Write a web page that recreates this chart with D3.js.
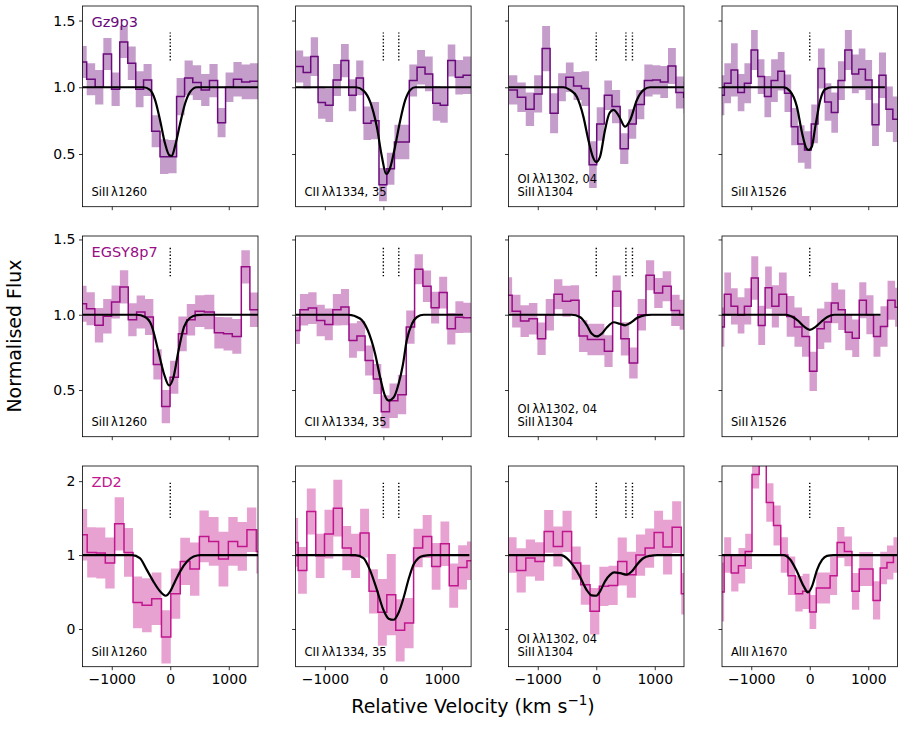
<!DOCTYPE html>
<html>
<head>
<meta charset="utf-8">
<script src="https://cdn.jsdelivr.net/npm/d3@7"></script>
<style>
  body { margin: 0; background: #fff; }
  svg { font-family: "DejaVu Sans", sans-serif; }
</style>
</head>
<body>
<div id="chart"></div>
<script>
// ---- data ----
var galaxies = ["Gz9p3", "EGSY8p7", "ZD2"];

// Gz9p3 SiII 1260
var gz_si1260_v = [-1502, -1355, -1212, -1075, -932, -795, -657, -523, -390, -246, -104, 40, 177, 313, 457, 600, 740, 880, 1011, 1149, 1292, 1430];
var gz_si1260_f = [1.19, 1.06, 1.0, 1.25, 0.985, 1.34, 1.18, 0.985, 1.055, 0.67, 0.48, 0.48, 0.93, 1.07, 1.035, 0.98, 1.05, 0.735, 1.0, 1.06, 1.04, 1.045];
var gz_si1260_e = [0.12, 0.12, 0.13, 0.12, 0.125, 0.12, 0.125, 0.135, 0.12, 0.12, 0.13, 0.125, 0.14, 0.13, 0.13, 0.12, 0.125, 0.11, 0.11, 0.13, 0.13, 0.135];
var gz_si1260_model = [[-1500, 1], [-460, 1], [-345, 0.98], [-260, 0.905], [-175, 0.755], [-90, 0.58], [-15, 0.49], [25, 0.485], [80, 0.555], [170, 0.73], [255, 0.88], [340, 0.965], [455, 1], [1500, 1]];

// Gz9p3 CII 1334
var gz_c1334_v = [-1434, -1306, -1177, -1055, -926, -792, -657, -526, -403, -278, -143, -6, 125, 254, 380, 508, 645, 780, 908, 1036, 1165, 1296, 1430];
var gz_c1334_f = [1.155, 1.11, 1.23, 0.885, 0.865, 1.055, 1.2, 0.94, 1.07, 0.73, 0.75, 0.27, 0.39, 0.59, 0.59, 1.05, 1.15, 1.1, 0.88, 0.865, 1.2, 1.075, 1.09];
var gz_c1334_e = [0.12, 0.12, 0.145, 0.12, 0.125, 0.12, 0.125, 0.12, 0.13, 0.125, 0.14, 0.125, 0.12, 0.13, 0.13, 0.12, 0.13, 0.13, 0.13, 0.13, 0.12, 0.13, 0.14];
var gz_c1334_model = [[-1500, 1], [-465, 1], [-340, 0.975], [-225, 0.89], [-110, 0.7], [-25, 0.48], [48, 0.35], [115, 0.395], [200, 0.555], [290, 0.755], [375, 0.905], [460, 0.98], [545, 1], [1500, 1]];

// Gz9p3 OI 1302 / SiII 1304
var gz_o1302_v = [-1420, -1278, -1132, -992, -858, -720, -584, -455, -320, -186, -58, 74, 202, 337, 480, 617, 750, 894, 1031, 1160, 1294, 1428, 1560];
var gz_o1302_f = [0.98, 0.925, 0.835, 0.95, 1.29, 0.805, 1.0, 1.075, 1.01, 0.99, 0.42, 0.725, 0.94, 0.855, 0.54, 0.725, 0.87, 1.05, 1.055, 1.04, 1.16, 0.96, 0.925];
var gz_o1302_e = [0.11, 0.11, 0.125, 0.14, 0.17, 0.15, 0.105, 0.11, 0.105, 0.13, 0.175, 0.125, 0.11, 0.125, 0.115, 0.11, 0.11, 0.12, 0.11, 0.12, 0.135, 0.12, 0.12];
var gz_o1302_model = [[-1500, 1], [-565, 1], [-450, 0.98], [-335, 0.93], [-220, 0.78], [-135, 0.605], [-60, 0.48], [0, 0.44], [65, 0.48], [150, 0.68], [225, 0.805], [295, 0.83], [380, 0.79], [494, 0.705], [580, 0.755], [695, 0.905], [810, 0.98], [920, 1], [1500, 1]];

// Gz9p3 SiII 1526
var gz_si1526_v = [-1517, -1403, -1288, -1174, -1060, -946, -832, -717, -603, -489, -374, -260, -146, -32, 83, 197, 312, 426, 540, 660, 780, 894, 1008, 1123, 1243, 1363, 1478];
var gz_si1526_f = [0.94, 1.03, 1.13, 0.96, 1.03, 1.28, 1.08, 0.93, 1.05, 1.12, 0.955, 0.705, 0.575, 0.53, 0.725, 1.14, 0.89, 0.81, 1.05, 1.28, 1.1, 1.135, 1.055, 0.72, 1.09, 0.835, 0.76];
var gz_si1526_e = [0.15, 0.15, 0.2, 0.14, 0.15, 0.15, 0.13, 0.155, 0.16, 0.145, 0.14, 0.14, 0.14, 0.14, 0.145, 0.15, 0.14, 0.15, 0.145, 0.15, 0.145, 0.155, 0.15, 0.16, 0.17, 0.17, 0.17];
var gz_si1526_model = [[-1500, 1], [-450, 1], [-335, 0.97], [-220, 0.855], [-135, 0.665], [-60, 0.545], [-20, 0.53], [35, 0.555], [95, 0.705], [180, 0.905], [265, 0.985], [380, 1], [1285, 1]];

// EGSY8p7 SiII 1260
var eg_si1260_v = [-1502, -1360, -1218, -1075, -932, -790, -646, -504, -360, -218, -75, 68, 210, 354, 497, 668, 839, 982, 1139, 1290, 1432];
var eg_si1260_f = [1.073, 1.04, 0.93, 0.99, 1.085, 1.185, 0.967, 1.018, 0.985, 0.67, 0.39, 0.585, 0.873, 0.967, 1.024, 1.018, 0.88, 0.873, 0.856, 1.318, 1.033];
var eg_si1260_e = [0.12, 0.11, 0.115, 0.115, 0.11, 0.11, 0.11, 0.11, 0.12, 0.1, 0.11, 0.11, 0.115, 0.105, 0.105, 0.115, 0.105, 0.11, 0.115, 0.11, 0.115];
var eg_si1260_model = [[-1500, 1], [-575, 1], [-430, 0.985], [-320, 0.93], [-205, 0.76], [-105, 0.605], [-20, 0.53], [55, 0.585], [140, 0.76], [235, 0.92], [340, 0.98], [455, 0.998], [570, 1], [1500, 1]];

// EGSY8p7 CII 1334
var eg_c1334_v = [-1497, -1355, -1212, -1070, -932, -795, -655, -520, -384, -240, -104, 34, 176, 320, 462, 606, 746, 886, 1022, 1160, 1302, 1437];
var eg_c1334_f = [0.896, 1.033, 1.044, 0.962, 0.936, 1.033, 1.051, 0.829, 0.858, 0.696, 0.573, 0.356, 0.429, 0.469, 0.918, 1.302, 1.189, 1.047, 1.147, 0.907, 0.984, 0.98];
var eg_c1334_e = [0.09, 0.105, 0.105, 0.105, 0.105, 0.105, 0.12, 0.115, 0.1, 0.1, 0.1, 0.11, 0.115, 0.13, 0.11, 0.1, 0.105, 0.105, 0.105, 0.105, 0.105, 0.1];
var eg_c1334_model = [[-1500, 1], [-600, 1], [-400, 0.975], [-270, 0.9], [-140, 0.74], [-55, 0.585], [30, 0.46], [90, 0.43], [175, 0.45], [260, 0.54], [335, 0.67], [400, 0.83], [490, 0.94], [575, 0.985], [690, 1], [1360, 1]];

// EGSY8p7 OI 1302 / SiII 1304
var eg_o1302_v = [-1510, -1366, -1224, -1078, -934, -794, -652, -506, -364, -224, -78, 68, 210, 350, 490, 636, 780, 920, 1062, 1208, 1354, 1497];
var eg_o1302_f = [1.129, 1.024, 0.958, 0.973, 0.84, 1.0, 1.136, 1.089, 1.096, 0.858, 0.836, 0.836, 0.758, 1.156, 0.84, 0.68, 1.0, 1.262, 1.144, 1.189, 1.029, 1.0];
var eg_o1302_e = [0.12, 0.108, 0.105, 0.105, 0.108, 0.105, 0.1, 0.103, 0.1, 0.105, 0.105, 0.105, 0.105, 0.105, 0.11, 0.103, 0.105, 0.1, 0.1, 0.1, 0.103, 0.1];
var eg_o1302_model = [[-1500, 1], [-420, 1], [-280, 0.985], [-160, 0.93], [-80, 0.875], [10, 0.856], [95, 0.875], [180, 0.915], [300, 0.95], [400, 0.94], [495, 0.93], [580, 0.945], [695, 0.978], [840, 0.998], [950, 1], [1500, 1]];

// EGSY8p7 SiII 1526
var eg_si1526_v = [-1517, -1403, -1289, -1174, -1060, -940, -820, -706, -591, -463, -326, -197, -69, 60, 186, 311, 426, 546, 666, 786, 906, 1029, 1151, 1266, 1394, 1523];
var eg_si1526_f = [0.918, 1.136, 1.056, 0.996, 1.056, 1.244, 0.929, 1.18, 1.056, 1.136, 0.989, 0.918, 0.856, 0.624, 0.907, 0.951, 1.078, 1.033, 0.884, 0.844, 1.096, 1.0, 0.856, 0.922, 1.096, 1.05];
var eg_si1526_e = [0.13, 0.145, 0.12, 0.12, 0.12, 0.145, 0.13, 0.14, 0.14, 0.145, 0.135, 0.13, 0.135, 0.13, 0.135, 0.135, 0.135, 0.135, 0.12, 0.125, 0.12, 0.13, 0.135, 0.135, 0.13, 0.13];
var eg_si1526_model = [[-1500, 1], [-400, 1], [-300, 0.986], [-200, 0.96], [-100, 0.922], [0, 0.9], [100, 0.92], [200, 0.955], [300, 0.985], [420, 1], [1210, 1]];

// ZD2 SiII 1260
var zd_si1260_v = [-1500, -1340, -1189, -1032, -869, -712, -560, -403, -232, -69, 88, 254, 420, 577, 740, 912, 1074, 1231, 1391, 1551];
var zd_si1260_f = [1.275, 1.036, 1.027, 0.892, 1.423, 1.036, 0.36, 0.32, 0.41, -0.108, 0.477, 0.914, 0.811, 1.252, 1.185, 0.946, 1.185, 1.117, 1.342, 1.05];
var zd_si1260_e = [0.35, 0.34, 0.345, 0.345, 0.36, 0.33, 0.35, 0.365, 0.355, 0.36, 0.34, 0.32, 0.36, 0.35, 0.33, 0.37, 0.33, 0.33, 0.3, 0.3];
var zd_si1260_model = [[-1500, 1], [-650, 1], [-520, 0.96], [-400, 0.8], [-290, 0.645], [-175, 0.51], [-80, 0.45], [0, 0.51], [80, 0.64], [170, 0.78], [290, 0.915], [400, 0.98], [520, 1], [1500, 1]];

// ZD2 CII 1334
var zd_c1334_v = [-1530, -1384, -1232, -1080, -932, -778, -626, -475, -320, -169, -18, 136, 288, 440, 594, 751, 902, 1051, 1202, 1354, 1505];
var zd_c1334_f = [1.171, 0.793, 1.59, 0.99, 1.284, 1.635, 1.095, 0.99, 1.297, 0.509, 0.225, 0.464, -0.018, 0.081, 1.095, 1.252, 0.847, 1.153, 0.586, 0.833, 0.923];
var zd_c1334_e = [0.33, 0.315, 0.31, 0.3, 0.33, 0.385, 0.3, 0.3, 0.33, 0.3, 0.45, 0.55, 0.42, 0.34, 0.26, 0.29, 0.315, 0.3, 0.3, 0.3, 0.26];
var zd_c1334_model = [[-1500, 1], [-480, 1], [-340, 0.96], [-230, 0.8], [-110, 0.53], [0, 0.26], [90, 0.14], [175, 0.125], [260, 0.22], [345, 0.42], [430, 0.67], [515, 0.87], [600, 0.96], [690, 0.99], [800, 1], [1470, 1]];

// ZD2 OI 1302 / SiII 1304
var zd_o1302_v = [-1440, -1283, -1126, -969, -812, -655, -498, -344, -186, -26, 131, 288, 445, 600, 757, 914, 1065, 1219, 1376, 1530];
var zd_o1302_f = [1.0, 0.793, 0.96, 0.914, 1.32, 1.117, 1.32, 0.892, 0.599, 0.239, 0.577, 0.59, 0.914, 0.734, 1.0, 1.095, 1.306, 1.108, 1.378, 0.477];
var zd_o1302_e = [0.24, 0.3, 0.25, 0.26, 0.29, 0.27, 0.28, 0.225, 0.27, 0.315, 0.265, 0.265, 0.325, 0.31, 0.28, 0.265, 0.295, 0.37, 0.35, 0.28];
var zd_o1302_model = [[-1500, 1], [-600, 1], [-505, 0.96], [-390, 0.855], [-280, 0.71], [-165, 0.53], [-80, 0.455], [0, 0.45], [65, 0.51], [150, 0.645], [240, 0.735], [305, 0.765], [410, 0.755], [520, 0.735], [610, 0.78], [695, 0.87], [810, 0.96], [920, 0.99], [1040, 1], [1500, 1]];

// ZD2 AlII 1670
var zd_al1670_v = [-1520, -1406, -1280, -1158, -1048, -926, -803, -683, -557, -434, -312, -183, -60, 54, 168, 288, 408, 528, 657, 786, 906, 1020, 1143, 1266, 1374, 1486];
var zd_al1670_f = [0.5, 1.0, 0.757, 0.856, 1.05, 2.09, 2.5, 1.71, 1.4, 1.0, 0.72, 0.477, 0.509, 0.23, 0.554, 0.554, 0.72, 1.171, 1.05, 0.509, 0.81, 0.81, 0.387, 0.824, 0.9, 1.0];
var zd_al1670_e = [0.4, 0.24, 0.25, 0.24, 0.24, 0.19, 0.3, 0.26, 0.27, 0.24, 0.26, 0.24, 0.24, 0.23, 0.21, 0.21, 0.26, 0.21, 0.2, 0.25, 0.23, 0.23, 0.26, 0.22, 0.23, 0.24];
var zd_al1670_model = [[-1500, 1], [-450, 1], [-335, 0.94], [-220, 0.78], [-105, 0.58], [-30, 0.495], [40, 0.58], [125, 0.8], [210, 0.935], [295, 0.99], [410, 1], [1500, 1]];

// line identifications and their rest velocities (km/s)
var ids_si1260 = ["SiII\u2009\u03bb1260"];
var ids_c1334 = ["CII\u2009\u03bb\u03bb1334, 35"];
var ids_o1302 = ["OI\u2009\u03bb\u03bb1302, 04", "SiII\u2009\u03bb1304"];
var ids_si1526 = ["SiII\u2009\u03bb1526"];
var ids_al1670 = ["AlII\u2009\u03bb1670"];
var marks_single = [0];
var marks_c1334 = [0, 264];
var marks_o1302 = [0, 507, 619];

// per-row axis settings
var rowYDomain = [[0.105, 1.609], [0.19, 1.523], [-0.51, 2.205]];
var rowYTicks = [[0.5, 1.0, 1.5], [0.5, 1.0, 1.5], [0, 1, 2]];
var rowYMinor = [0.1, 0.1, 0.2];
var rowMarkY = [[1.2, 1.41], [1.255, 1.45], [1.5, 2.0]];
var rowColors = ["#6b0a7c", "#980c86", "#c2168e"];
var xTicks = [-1000, 0, 1000];

// layout
var width = 904, height = 752;
var colLeft = [82.5, 295.6, 508.5, 722];
var rowTop = [6, 236, 466];
var panelW = 175.5, panelH = 200.7;

var panels = [
  {row: 0, col: 0, v: gz_si1260_v, f: gz_si1260_f, e: gz_si1260_e, model: gz_si1260_model, ids: ids_si1260, marks: marks_single},
  {row: 0, col: 1, v: gz_c1334_v, f: gz_c1334_f, e: gz_c1334_e, model: gz_c1334_model, ids: ids_c1334, marks: marks_c1334},
  {row: 0, col: 2, v: gz_o1302_v, f: gz_o1302_f, e: gz_o1302_e, model: gz_o1302_model, ids: ids_o1302, marks: marks_o1302},
  {row: 0, col: 3, v: gz_si1526_v, f: gz_si1526_f, e: gz_si1526_e, model: gz_si1526_model, ids: ids_si1526, marks: marks_single},
  {row: 1, col: 0, v: eg_si1260_v, f: eg_si1260_f, e: eg_si1260_e, model: eg_si1260_model, ids: ids_si1260, marks: marks_single},
  {row: 1, col: 1, v: eg_c1334_v, f: eg_c1334_f, e: eg_c1334_e, model: eg_c1334_model, ids: ids_c1334, marks: marks_c1334},
  {row: 1, col: 2, v: eg_o1302_v, f: eg_o1302_f, e: eg_o1302_e, model: eg_o1302_model, ids: ids_o1302, marks: marks_o1302},
  {row: 1, col: 3, v: eg_si1526_v, f: eg_si1526_f, e: eg_si1526_e, model: eg_si1526_model, ids: ids_si1526, marks: marks_single},
  {row: 2, col: 0, v: zd_si1260_v, f: zd_si1260_f, e: zd_si1260_e, model: zd_si1260_model, ids: ids_si1260, marks: marks_single},
  {row: 2, col: 1, v: zd_c1334_v, f: zd_c1334_f, e: zd_c1334_e, model: zd_c1334_model, ids: ids_c1334, marks: marks_c1334},
  {row: 2, col: 2, v: zd_o1302_v, f: zd_o1302_f, e: zd_o1302_e, model: zd_o1302_model, ids: ids_o1302, marks: marks_o1302},
  {row: 2, col: 3, v: zd_al1670_v, f: zd_al1670_f, e: zd_al1670_e, model: zd_al1670_model, ids: ids_al1670, marks: marks_single}
];

var svg = d3.select("#chart")
            .append("svg")
            .attr("width", width)
            .attr("height", height);

// turn bin centres into step vertices (like matplotlib step where='mid')
function stepPoints(v, f, e) {
  var n = v.length, edges = [];
  edges.push(v[0] - (v[1] - v[0]) / 2);
  for (var i = 1; i < n; i++) edges.push((v[i - 1] + v[i]) / 2);
  edges.push(v[n - 1] + (v[n - 1] - v[n - 2]) / 2);
  var pts = [];
  for (var j = 0; j < n; j++) {
    pts.push({x: edges[j], f: f[j], e: e[j]});
    pts.push({x: edges[j + 1], f: f[j], e: e[j]});
  }
  return pts;
}

function minorTicks(domain, step) {
  var out = [];
  var start = Math.ceil(domain[0] / step - 1e-9);
  for (var k = start; k * step <= domain[1] + 1e-9; k++) out.push(+(k * step).toFixed(3));
  return out;
}

function drawPanel(p) {
  var left = colLeft[p.col], top = rowTop[p.row];
  var color = rowColors[p.row];
  var x = d3.scaleLinear().domain([-1500, 1500]).range([left, left + panelW]);
  var y = d3.scaleLinear().domain(rowYDomain[p.row]).range([top + panelH, top]);

  var clipId = "clip" + p.row + "_" + p.col;
  svg.append("clipPath").attr("id", clipId)
     .append("rect")
     .attr("x", left).attr("y", top)
     .attr("width", panelW).attr("height", panelH);

  var plot = svg.append("g").attr("clip-path", "url(#" + clipId + ")");
  var pts = stepPoints(p.v, p.f, p.e);

  // error band
  plot.append("path")
      .datum(pts)
      .attr("d", d3.area()
        .x(function(d) { return x(d.x); })
        .y0(function(d) { return y(d.f - d.e); })
        .y1(function(d) { return y(d.f + d.e); }))
      .attr("fill", color)
      .attr("fill-opacity", 0.4)
      .attr("stroke", "none");

  // flux
  plot.append("path")
      .datum(pts)
      .attr("d", d3.line()
        .x(function(d) { return x(d.x); })
        .y(function(d) { return y(d.f); }))
      .attr("fill", "none")
      .attr("stroke", color)
      .attr("stroke-width", 1.5);

  // model
  plot.append("path")
      .datum(p.model)
      .attr("d", d3.line()
        .curve(d3.curveMonotoneX)
        .x(function(d) { return x(d[0]); })
        .y(function(d) { return y(d[1]); }))
      .attr("fill", "none")
      .attr("stroke", "#000")
      .attr("stroke-width", 2.2);

  // line positions
  var my = rowMarkY[p.row];
  plot.selectAll(".mark")
      .data(p.marks)
      .enter()
      .append("line")
      .attr("x1", function(d) { return x(d); })
      .attr("x2", function(d) { return x(d); })
      .attr("y1", y(my[0]))
      .attr("y2", y(my[1]))
      .attr("stroke", "#000")
      .attr("stroke-width", 1.4)
      .attr("stroke-dasharray", "1.4,2");

  // x axis
  var xMinor = minorTicks([-1400, 1400], 200).filter(function(t) { return xTicks.indexOf(t) < 0; });
  var gx = svg.append("g").attr("transform", "translate(0," + (top + panelH) + ")");
  gx.call(d3.axisBottom(x).tickValues(xMinor).tickSize(2).tickFormat(""));
  gx.call(d3.axisBottom(x).tickValues(xTicks).tickSize(3.5).tickPadding(3.5)
          .tickFormat(p.row === 2 ? d3.format("d") : function() { return ""; }));
  gx.selectAll(".domain").remove();

  // y axis
  var yMinor = minorTicks(rowYDomain[p.row], rowYMinor[p.row]).filter(function(t) {
    return rowYTicks[p.row].indexOf(t) < 0;
  });
  var gy = svg.append("g").attr("transform", "translate(" + left + ",0)");
  gy.call(d3.axisLeft(y).tickValues(yMinor).tickSize(2).tickFormat(""));
  gy.call(d3.axisLeft(y).tickValues(rowYTicks[p.row]).tickSize(3.5).tickPadding(3.5)
          .tickFormat(p.col === 0 ? d3.format(p.row === 2 ? "d" : ".1f") : function() { return ""; }));
  gy.selectAll(".domain").remove();

  svg.selectAll(".tick line").attr("stroke", "#000").attr("stroke-width", 0.8);
  svg.selectAll(".tick text")
     .attr("font-family", "DejaVu Sans, sans-serif")
     .attr("font-size", 14)
     .attr("fill", "#000");

  // frame
  svg.append("rect")
     .attr("x", left).attr("y", top)
     .attr("width", panelW).attr("height", panelH)
     .attr("fill", "none")
     .attr("stroke", "#000")
     .attr("stroke-width", 0.8);

  // transition labels
  var nIds = p.ids.length;
  svg.selectAll(null)
     .data(p.ids)
     .enter()
     .append("text")
     .attr("x", left + 9)
     .attr("y", function(d, i) { return top + panelH - 10.3 - (nIds - 1 - i) * 13.5; })
     .attr("font-size", 11.5)
     .attr("fill", "#000")
     .text(function(d) { return d; });

  // galaxy name
  if (p.col === 0) {
    svg.append("text")
       .attr("x", left + 9)
       .attr("y", top + 20.6)
       .attr("font-size", 14.5)
       .attr("fill", color)
       .text(galaxies[p.row]);
  }
}

panels.forEach(drawPanel);

// axis titles
svg.append("text")
   .attr("transform", "translate(21," + 336 + ") rotate(-90)")
   .attr("text-anchor", "middle")
   .attr("font-size", 19)
   .text("Normalised Flux");

var xl = svg.append("text")
   .attr("x", 473)
   .attr("y", 713)
   .attr("text-anchor", "middle")
   .attr("font-size", 19);
xl.append("tspan").text("Relative Velocity (km s");
xl.append("tspan").attr("baseline-shift", "super").attr("font-size", 13.5).text("\u22121");
xl.append("tspan").text(")");
</script>
</body>
</html>
